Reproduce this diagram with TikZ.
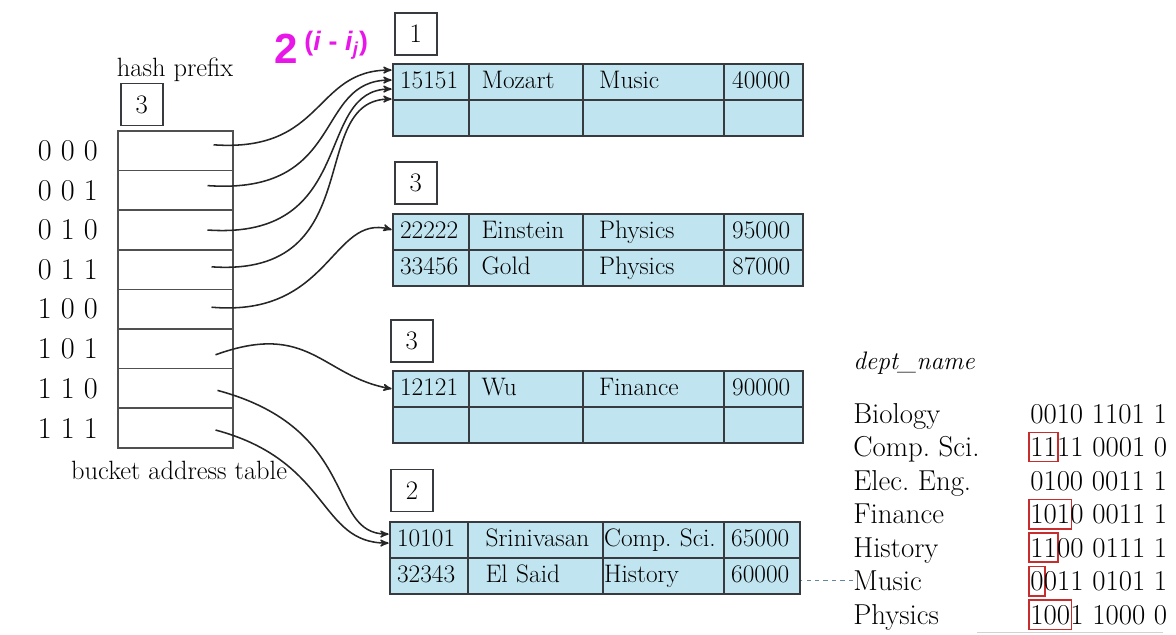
\documentclass[tikz,border=0pt]{standalone}
\usepackage{fontspec}
\newfontfamily\magfont{Liberation Sans}
\usetikzlibrary{arrows,positioning,matrix}

\definecolor{bucketblue}{RGB}{193,229,240}
\definecolor{linegray}{RGB}{55,58,62}
\definecolor{cellgray}{RGB}{80,80,80}
\definecolor{hashmag}{RGB}{232,22,232}
\definecolor{boxred}{RGB}{200,45,45}
\definecolor{dashblue}{RGB}{100,135,155}

\tikzset{
  cell/.style={draw=cellgray,line width=1.2pt,minimum width=2.875cm,minimum height=0.99cm,inner sep=0pt,outer sep=0pt},
  depthbox/.style={draw=linegray,line width=1.1pt,minimum size=1.05cm,inner sep=0pt,fill=white,font=\fontsize{19}{22}\selectfont},
  bucket/.style={matrix of nodes,nodes in empty cells,column sep=-1.1pt,row sep=-1.1pt,anchor=north west,inner sep=0pt,
    nodes={draw=linegray,fill=bucketblue,line width=1.1pt,outer sep=0pt,minimum height=0.9cm,inner ysep=0pt,
      text height=12.5pt,text depth=4pt,align=left,font=\fontsize{18}{21}\selectfont}},
  std cols/.style={column 1/.style={nodes={text width=1.55cm,inner xsep=0.175cm}},
    column 2/.style={nodes={text width=2.225cm,inner xsep=0.3125cm}},
    column 3/.style={nodes={text width=2.725cm,inner xsep=0.4cm}},
    column 4/.style={nodes={text width=1.575cm,inner xsep=0.2cm}}},
  ptr/.style={->,line width=1.1pt,draw=black!85,shorten >=1pt},
  deptname/.style={anchor=base west,inner sep=0pt,font=\fontsize{20.5}{24}\selectfont},
  bits/.style={anchor=base west,inner sep=0pt,font=\fontsize{20.5}{24}\selectfont},
  hl/.style={draw=boxred,line width=1.2pt,inner xsep=1pt,inner ysep=3.5pt,outer sep=0pt,anchor=base west,font=\fontsize{20.5}{24}\selectfont}
}

\begin{document}
\frenchspacing
\begin{tikzpicture}[x=0.025cm,y=-0.025cm,>=stealth']
\useasboundingbox (0,0) rectangle (1176,634);

% bucket address table
\foreach \b [count=\i from 0] in {0 0 0,0 0 1,0 1 0,0 1 1,1 0 0,1 0 1,1 1 0,1 1 1}{
  \node[cell] (r\i) at (175.5,{150.8+39.6*\i}) {};
  \node[left=0.5cm of r\i,inner sep=0pt,font=\fontsize{21.5}{25}\selectfont] (l\i) {\b};
}
\node[depthbox,above right=0.12cm and 0.05cm of r0.north west] (gd) {3};
\node[above right=-0.1cm and -0.2cm of gd.north west,font=\fontsize{18.8}{22}\selectfont] (hp) {hash prefix};
\node[below=0.2cm of r7,xshift=0.09cm,font=\fontsize{18.8}{22}\selectfont] (bat) {bucket address table};

% buckets
\matrix (b1) [bucket,std cols] at (392,63) {15151 & Mozart & Music & 40000\\ & & & \\};
\matrix (b2) [bucket,std cols] at (392,213) {22222 & Einstein & Physics & 95000\\ 33456 & Gold & Physics & 87000\\};
\matrix (b3) [bucket,std cols] at (392,370) {12121 & Wu & Finance & 90000\\ & & & \\};
\matrix (b4) [bucket,
  column 1/.style={nodes={text width=1.6cm,inner xsep=0.175cm}},
  column 2/.style={nodes={text width=2.5cm,inner xsep=0.4375cm}},
  column 3/.style={nodes={text width=2.975cm,inner xsep=0.025cm}},
  column 4/.style={nodes={text width=1.55cm,inner xsep=0.175cm}}] at (389,521)
  {10101 & Srinivasan & Comp. Sci. & 65000\\ 32343 & El Said & History & 60000\\};

\node[depthbox,above right=0.18cm and 0.05cm of b1.north west] (d1) {1};
\node[depthbox,above right=0.2cm and 0.05cm of b2.north west] (d2) {3};
\node[depthbox,above right=0.18cm and -0.05cm of b3.north west] (d3) {3};
\node[depthbox,above right=0.22cm and 0.03cm of b4.north west] (d4) {2};

\node[font=\magfont\bfseries\fontsize{30}{32}\selectfont,text=hashmag,inner sep=0pt] (pow) at (321,47)
  {2\,\raisebox{0.3em}{\fontsize{19}{21}\selectfont(\textit{i} - \textit{i}\textsubscript{\textit{j}})}};

% pointers
\foreach \i/\dx/\dy in {0/0.95/0.15,1/0.8/0.12,2/0.8/0,3/0.9/0.07,4/0.9/0.05,5/1.0/-0.15,6/1.05/-0.05,7/1.0/-0.05}
  \coordinate (s\i) at ([xshift=\dx cm,yshift=\dy cm]r\i.center);
\coordinate (t0) at ([yshift=0.3cm]b1-1-1.west);
\coordinate (t1) at ([yshift=0.05cm]b1-1-1.west);
\coordinate (t2) at ([yshift=-0.175cm]b1-1-1.west);
\coordinate (t3) at ([yshift=-0.425cm]b1-1-1.west);
\coordinate (t4) at ([yshift=0.05cm]b2-1-1.west);
\coordinate (t5) at (b3-1-1.west);
\coordinate (t6) at ([yshift=0.15cm]b4-1-1.west);
\coordinate (t7) at ([yshift=-0.075cm]b4-1-1.west);

\draw[ptr] (s0) to[out=-4,in=180,out distance=2.8cm,in distance=2cm] (t0);
\draw[ptr] (s1) to[out=-4,in=180,out distance=3.5cm,in distance=2cm] (t1);
\draw[ptr] (s2) to[out=-4,in=180,out distance=3.8cm,in distance=2cm] (t2);
\draw[ptr] (s3) to[out=-4,in=180,out distance=4cm,in distance=2.2cm] (t3);
\draw[ptr] (s4) to[out=-5,in=165,out distance=3cm,in distance=1.6cm] (t4);
\draw[ptr] (s5) to[out=20,in=170,out distance=2.5cm,in distance=1.8cm] (t5);
\draw[ptr] (s6) to[out=-15,in=180,out distance=3.7cm,in distance=1.6cm] (t6);
\draw[ptr] (s7) to[out=-15,in=180,out distance=3cm,in distance=1.8cm] (t7);

% dept_name hash values
\node[deptname,font=\itshape\fontsize{18}{22}\selectfont] (dn) at (853,369) {dept\_name};
\node[deptname] (bio) at (853,423) {Biology};
\node[deptname] (cs) at (853,456.5) {Comp. Sci.};
\node[deptname] (ee) at (853,490) {Elec. Eng.};
\node[deptname] (fin) at (853,523.5) {Finance};
\node[deptname] (his) at (853,557) {History};
\node[deptname] (mus) at (853,590.5) {Music};
\node[deptname] (phy) at (853,624) {Physics};

\node[bits] (hb0) at (1030,423) {0010 1101 1};
\node[hl] (hc1) at (1029,456.5) {11};
\node[bits,xshift=-1pt] (hb1) at (hc1.base east) {11 0001 0};
\node[bits] (hb2) at (1030,490) {0100 0011 1};
\node[hl] (hc3) at (1029,523.5) {101};
\node[bits,xshift=-1pt] (hb3) at (hc3.base east) {0 0011 1};
\node[hl] (hc4) at (1029,557) {11};
\node[bits,xshift=-1pt] (hb4) at (hc4.base east) {00 0111 1};
\node[hl] (hc5) at (1029,590.5) {0};
\node[bits,xshift=-1pt] (hb5) at (hc5.base east) {011 0101 1};
\node[hl] (hc6) at (1029,624) {100};
\node[bits,xshift=-1pt] (hb6) at (hc6.base east) {1 1000 0};

\draw[dashblue,dashed,line width=0.7pt] (mus.west) -- (mus.west -| b4.east);
\draw[gray!35,line width=0.7pt] (977,632) -- (1163,632);
\end{tikzpicture}
\end{document}
